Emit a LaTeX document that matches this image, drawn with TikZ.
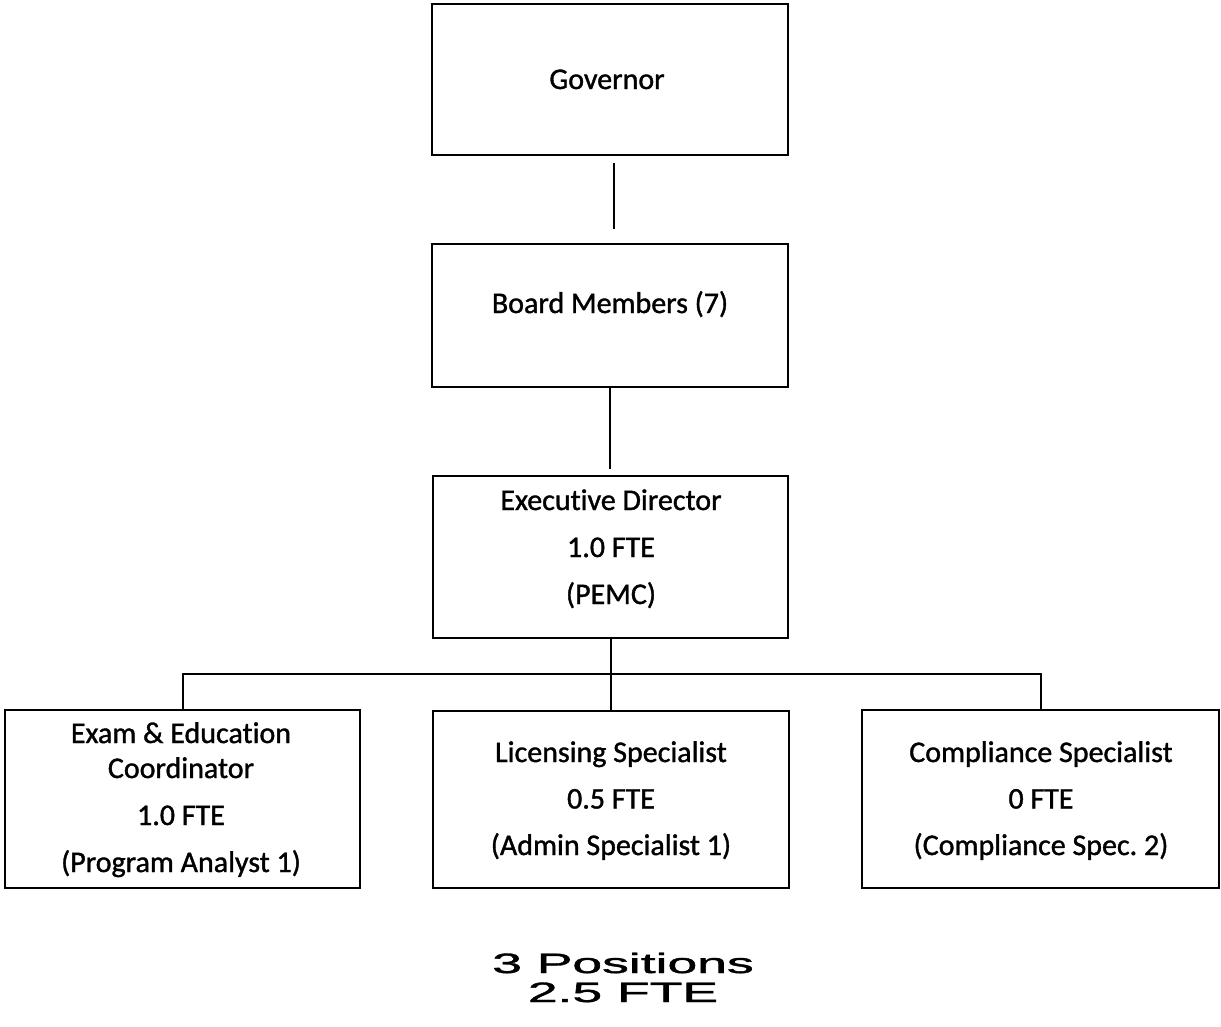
\documentclass[tikz,border=0pt]{standalone}
\usepackage{fontspec}
\setmainfont{Carlito}[Ligatures=NoCommon, BoldFont=Carlito, BoldFeatures={FakeBold=1.2}]
\newfontfamily\arialf{Liberation Sans}[FakeBold=1.2]
\newcommand\stackln[1]{\begin{tabular}[t]{@{}c@{}}#1\end{tabular}}
\frenchspacing
\begin{document}
\begin{tikzpicture}[x=1pt,y=-1pt,
  box/.style={draw, line width=2pt, rectangle, inner sep=0pt, outer sep=0pt},
  lbl/.style={font=\bfseries\fontsize{30}{35}\selectfont, inner sep=0pt, anchor=base},
  conn/.style={line width=2pt}]
\fill[white] (0,0) rectangle (1221,1026);
\useasboundingbox (0,0) rectangle (1221,1026);

% boxes
\node[box, minimum width=356pt, minimum height=151pt] (gov) at (610,79.5) {};
\node[box, minimum width=356pt, minimum height=143pt] (board) at (610,315.5) {};
\node[box, minimum width=355pt, minimum height=162pt] (exec) at (610.5,557) {};
\node[box, minimum width=355pt, minimum height=178pt] (left) at (182.5,799) {};
\node[box, minimum width=356pt, minimum height=177pt] (mid) at (610.5,799.5) {};
\node[box, minimum width=357pt, minimum height=178pt] (right) at (1040.5,799) {};

% texts
\node[lbl] (govt) at (607,89) {Governor};
\node[lbl] (boardt) at (610,313) {Board Members (7)};
\node[lbl] (exect) at (611,510) {\stackln{Executive Director\\[12pt]1.0 FTE\\[12pt](PEMC)}};
\node[lbl] (leftt) at (181,743) {\stackln{Exam \& Education\\Coordinator\\[12pt]1.0 FTE\\[12pt](Program Analyst 1)}};
\node[lbl] (midt) at (611,762) {\stackln{Licensing Specialist\\[11.5pt]0.5 FTE\\[11.5pt](Admin Specialist 1)}};
\node[lbl] (rightt) at (1041,762) {\stackln{Compliance Specialist\\[11.5pt]0 FTE\\[11.5pt](Compliance Spec. 2)}};

% connectors
\draw[conn, shorten <=8pt, shorten >=15pt] ([xshift=4pt]gov.south) -- ([xshift=4pt]board.north);
\draw[conn, shorten >=7pt] (board.south) -- (board.south |- exec.north);
\coordinate (bar) at (610,674);
\draw[conn] (exec.south) -- (mid.north);
\draw[conn] (left.north) |- (bar) -| (right.north);

% totals
\node[inner sep=0pt, anchor=base, font=\arialf\fontsize{28}{29}\selectfont] (tot) at (623,973)
  {\stackln{\scalebox{1.91}[1]{3 Positions}\\\scalebox{1.91}[1]{2.5 FTE}}};
\end{tikzpicture}
\end{document}
